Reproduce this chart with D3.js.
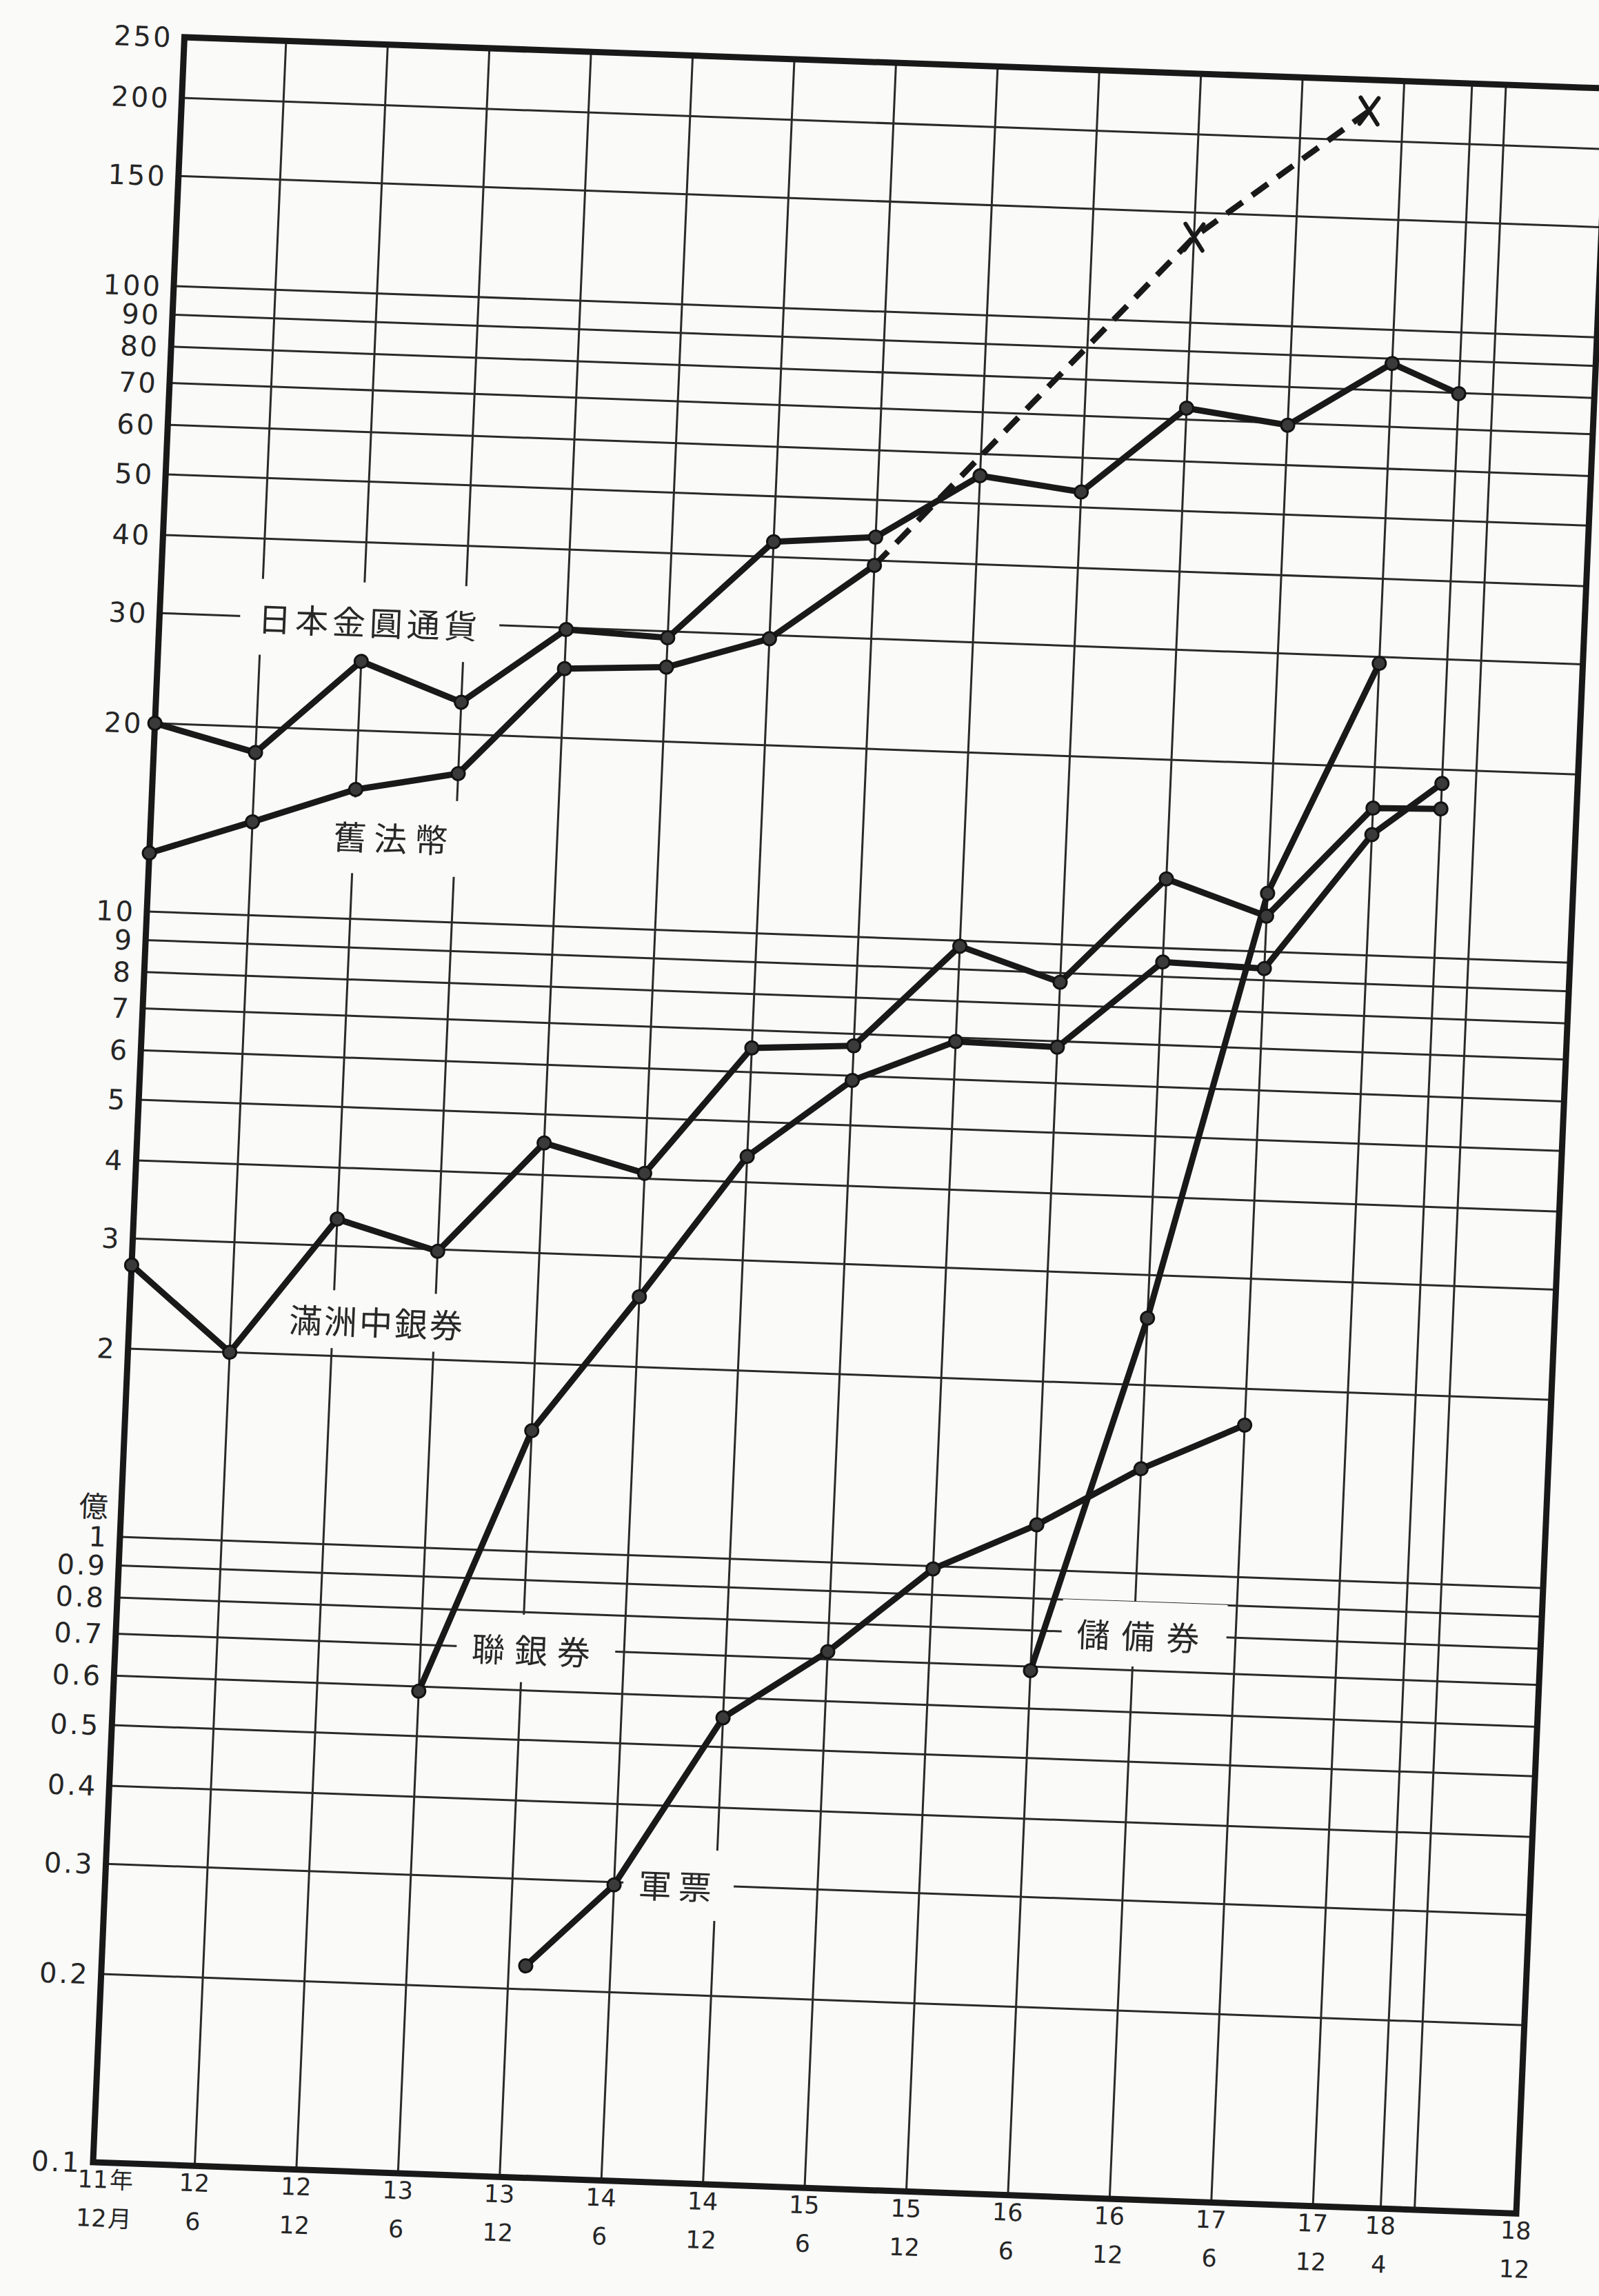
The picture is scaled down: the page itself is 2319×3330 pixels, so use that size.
<!DOCTYPE html>
<html>
<head>
<meta charset="utf-8">
<script src="https://cdn.jsdelivr.net/npm/d3@7"></script>
<style>
  html, body { margin: 0; padding: 0; background: #fafaf9; }
  svg { display: block; }
</style>
</head>
<body>
<svg id="chart" width="2319" height="3330"></svg>
<script>
// Periods are Showa year-month; notes in circulation, unit: 億 (100 million)
const periods = ["11-12","12-6","12-12","13-6","13-12","14-6","14-12","15-6","15-12","16-6","16-12","17-6","17-12","18-4","18-12"];
const extraGridPeriods = ["18-6"];

const yenPeriods = ["11-12","12-6","12-12","13-6","13-12","14-6","14-12","15-6","15-12","16-6","16-12","17-6","17-12","18-4"];
const yenValues  = [20.0, 18.2, 25.8, 22.5, 29.8, 29.3, 42.3, 43.6, 55.4, 52.9, 73.0, 69.5, 88.4, 79.8];

const fabiPeriods = ["11-12","12-6","12-12","13-6","13-12","14-6","14-12","15-6"];
const fabiValues  = [12.4, 14.1, 16.1, 17.3, 25.8, 26.3, 29.6, 39.3];

const fabiEstPeriods = ["15-6","16-12","17-10"];
const fabiEstValues  = [39.3, 137, 223];

const manchuPeriods = ["11-12","12-6","12-12","13-6","13-12","14-6","14-12","15-6","15-12","16-6","16-12","17-6","17-12","18-4"];
const manchuValues  = [2.72, 2.0, 3.31, 2.98, 4.5, 4.08, 6.56, 6.7, 9.8, 8.7, 12.9, 11.4, 17.2, 17.3];

const fedPeriods = ["13-6","13-12","14-6","14-12","15-6","15-12","16-6","16-12","17-6","17-12","18-4"];
const fedValues  = [0.59, 1.56, 2.59, 4.4, 5.9, 6.9, 6.85, 9.5, 9.4, 15.6, 19.0];

const crbPeriods = ["16-6","16-12","17-6","17-12"];
const crbValues  = [0.69, 2.56, 12.4, 29.3];

const scripPeriods = ["14-1","14-6","14-12","15-6","15-12","16-6","16-12","17-6"];
const scripValues  = [0.218, 0.297, 0.557, 0.72, 0.99, 1.18, 1.47, 1.75];

const yTickValues = [250,200,150,100,90,80,70,60,50,40,30,20,10,9,8,7,6,5,4,3,2,1,0.9,0.8,0.7,0.6,0.5,0.4,0.3,0.2,0.1];
const yTickLabels = ["250","200","150","100","90","80","70","60","50","40","30","20","10","9","8","7","6","5","4","3","2","1","0.9","0.8","0.7","0.6","0.5","0.4","0.3","0.2","0.1"];
const xYearLabels  = ["11","12","12","13","13","14","14","15","15","16","16","17","17","18","18"];
const xMonthLabels = ["12","6","12","6","12","6","12","6","12","6","12","6","12","4","12"];

// ---------------------------------------------------------------
const monthIndex = p => { const [yr, mo] = p.split("-").map(Number); return (yr - 11) * 12 + mo - 12; };
const toPoints = (ps, vs) => ps.map((p, i) => ({ t: monthIndex(p), v: vs[i] }));

const W = 2064;
const x = d3.scaleLinear().domain([0, 84]).range([0, W]);
const y = d3.scaleLog().domain([0.1, 250]).range([3094, 12]);

const ink = "#191919";
const gridInk = "#2a2a2a";
const paper = "#fafaf9";
const cjk = "'Noto Sans CJK JP','Noto Sans CJK TC',sans-serif";
const latin = "'DejaVu Sans',sans-serif";

const svg = d3.select("#chart");
svg.append("rect").attr("width", 2319).attr("height", 3330).attr("fill", paper);

// the printed sheet sits slightly rotated on the page
const g = svg.append("g").attr("transform", "matrix(1,0.036,-0.043,1,268,42)");

// horizontal grid
const yGrid = yTickValues.filter(v => v !== 250 && v !== 0.1);
g.append("g").selectAll("line").data(yGrid).join("line")
  .attr("x1", 0).attr("x2", W)
  .attr("y1", d => y(d)).attr("y2", d => y(d))
  .attr("stroke", gridInk).attr("stroke-width", 3);

// vertical grid
const xGrid = periods.slice(1, -1).concat(extraGridPeriods).map(monthIndex);
g.append("g").selectAll("line").data(xGrid).join("line")
  .attr("x1", d => x(d)).attr("x2", d => x(d))
  .attr("y1", y(250)).attr("y2", y(0.1))
  .attr("stroke", gridInk).attr("stroke-width", 3);

// frame
g.append("rect")
  .attr("x", x(0)).attr("y", y(250))
  .attr("width", x(84) - x(0)).attr("height", y(0.1) - y(250))
  .attr("fill", "none").attr("stroke", ink).attr("stroke-width", 9);

// y axis labels
const yAxis = g.append("g")
  .call(d3.axisLeft(y).tickValues(yTickValues).tickFormat((d, i) => yTickLabels[i]).tickSize(0).tickPadding(17));
yAxis.select(".domain").remove();
yAxis.selectAll("text")
  .attr("font-family", latin).attr("font-size", 40).attr("letter-spacing", 3)
  .attr("fill", "#262626").attr("dy", "0.36em");

g.append("text")
  .attr("x", x(0) - 40).attr("y", y(1) - 46)
  .attr("text-anchor", "middle").attr("dominant-baseline", "central")
  .attr("font-family", cjk).attr("font-size", 42).attr("fill", "#262626")
  .text("億");

// x axis labels: year row and month row
const xTicks = periods.map(monthIndex);
const yearAxis = g.append("g").attr("transform", `translate(0,${y(0.1)})`)
  .call(d3.axisBottom(x).tickValues(xTicks).tickFormat((d, i) => xYearLabels[i]).tickSize(0).tickPadding(12));
const monthAxis = g.append("g").attr("transform", `translate(0,${y(0.1)})`)
  .call(d3.axisBottom(x).tickValues(xTicks).tickFormat((d, i) => xMonthLabels[i]).tickSize(0).tickPadding(68));
[yearAxis, monthAxis].forEach(a => {
  a.select(".domain").remove();
  a.selectAll("text").attr("font-family", latin).attr("font-size", 35).attr("fill", "#262626");
});
// first column reads 11年 / 12月
[[yearAxis, "年"], [monthAxis, "月"]].forEach(([a, unit]) => {
  const t = a.selectAll("text").filter((d, i) => i === 0);
  t.attr("text-anchor", "start").attr("x", -22);
  t.append("tspan").attr("font-family", cjk).attr("font-size", 34).attr("dx", 2).text(unit);
});

// series labels with paper behind them
const seriesLabels = [
  { text: "日本金圓通貨", t: 12.4, v: 30,   spacing: 6,  padX: 26, padY: 30 },
  { text: "舊法幣",       t: 14.4, v: 13.6, spacing: 11, padX: 26, padY: 30 },
  { text: "滿洲中銀券",   t: 14.6, v: 2.29, spacing: 3,  padX: 22, padY: 17 },
  { text: "聯銀券",       t: 24.8, v: 0.7,  spacing: 14, padX: 22, padY: 24 },
  { text: "儲備券",       t: 60.6, v: 0.8,  spacing: 17, padX: 22, padY: 22 },
  { text: "軍票",         t: 33.8, v: 0.3,  spacing: 10, padX: 22, padY: 26 }
];
const labelLayer = g.append("g");
seriesLabels.forEach(l => {
  const lg = labelLayer.append("g").attr("transform", `translate(${x(l.t)},${y(l.v)})`);
  const box = lg.append("rect").attr("fill", paper);
  const txt = lg.append("text")
    .attr("text-anchor", "middle").attr("dominant-baseline", "central")
    .attr("font-family", cjk).attr("font-size", 48).attr("fill", "#282828")
    .attr("letter-spacing", l.spacing)
    .text(l.text);
  const bb = txt.node().getBBox();
  box.attr("x", bb.x - l.padX).attr("y", bb.y - l.padY + 10)
     .attr("width", bb.width + 2 * l.padX).attr("height", bb.height + 2 * l.padY - 20);
});

// data lines
const line = d3.line().x(d => x(d.t)).y(d => y(d.v));
const solidSeries = [
  toPoints(yenPeriods, yenValues),
  toPoints(fabiPeriods, fabiValues),
  toPoints(manchuPeriods, manchuValues),
  toPoints(fedPeriods, fedValues),
  toPoints(crbPeriods, crbValues),
  toPoints(scripPeriods, scripValues)
];
const estPoints = toPoints(fabiEstPeriods, fabiEstValues);

g.append("path").datum(estPoints).attr("d", line)
  .attr("fill", "none").attr("stroke", ink).attr("stroke-width", 8.5)
  .attr("stroke-dasharray", "28 17");

const lineLayer = g.append("g");
solidSeries.forEach(pts => {
  lineLayer.append("path").datum(pts).attr("d", line)
    .attr("fill", "none").attr("stroke", ink).attr("stroke-width", 9)
    .attr("stroke-linejoin", "round").attr("stroke-linecap", "round");
});
solidSeries.forEach(pts => {
  lineLayer.append("g").selectAll("circle").data(pts).join("circle")
    .attr("cx", d => x(d.t)).attr("cy", d => y(d.v)).attr("r", 9.5)
    .attr("fill", "#3a3a3a").attr("stroke", "#121212").attr("stroke-width", 3);
});

// estimated points marked with x
g.append("g").selectAll("path").data(estPoints.slice(1)).join("path")
  .attr("transform", d => `translate(${x(d.t)},${y(d.v)})`)
  .attr("d", "M-13,-19 L13,19 M13,-19 L-13,19")
  .attr("fill", "none").attr("stroke", ink).attr("stroke-width", 6).attr("stroke-linecap", "round");
</script>
</body>
</html>
